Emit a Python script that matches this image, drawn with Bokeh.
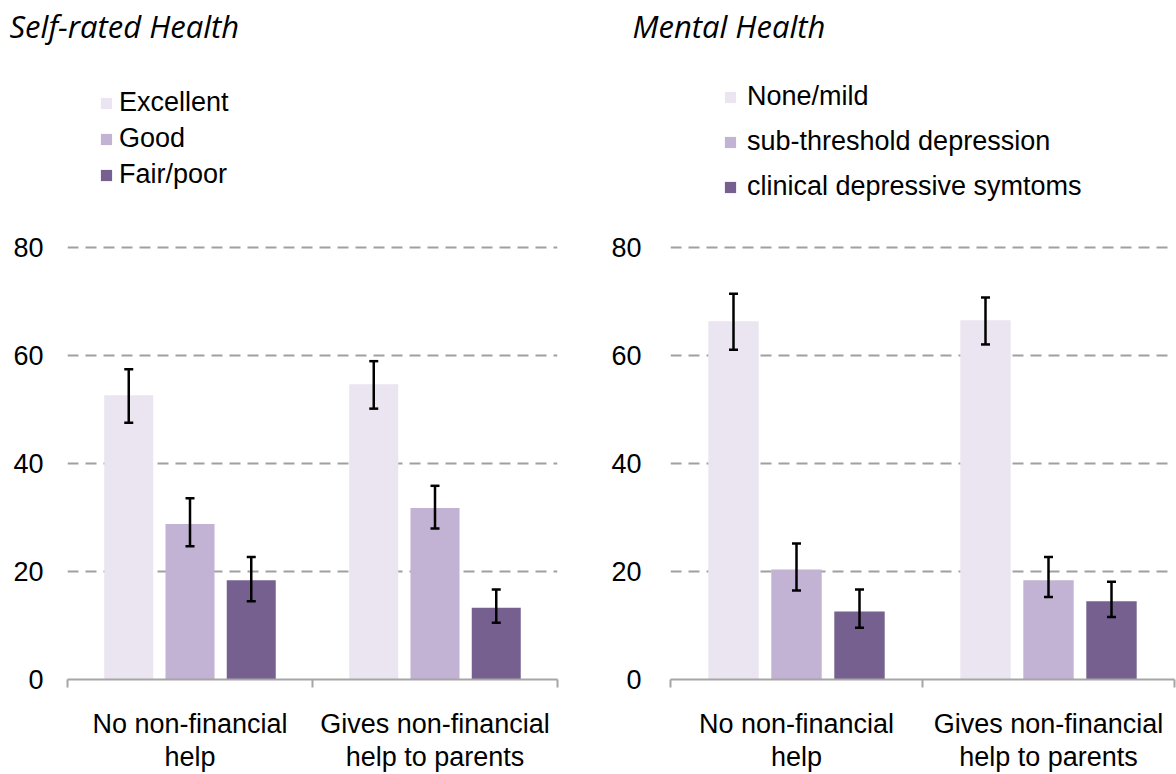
from bokeh.plotting import figure
from bokeh.models import (ColumnDataSource, FixedTicker, Whisker, TeeHead,
                          Legend, LegendItem, Range1d, Title)
from bokeh.layouts import row
from bokeh.embed import file_html
from bokeh.resources import INLINE

# Shared categories and axis ticks
groups = ["No non-financial\nhelp", "Gives non-financial\nhelp to parents"]
y_ticks = [0, 20, 40, 60, 80]

# Self-rated health (% of respondents), with 95% CI bounds
srh_levels = ["Excellent", "Good", "Fair/poor"]
srh_excellent = [52.7, 54.7]
srh_excellent_lo = [47.6, 50.2]
srh_excellent_hi = [57.5, 59.0]
srh_good = [28.8, 31.8]
srh_good_lo = [24.7, 28.0]
srh_good_hi = [33.6, 35.9]
srh_fair_poor = [18.4, 13.3]
srh_fair_poor_lo = [14.5, 10.5]
srh_fair_poor_hi = [22.7, 16.7]

# Mental health (% of respondents), with 95% CI bounds
mh_levels = ["None/mild", "sub-threshold depression", "clinical depressive symtoms"]
mh_none = [66.4, 66.6]
mh_none_lo = [61.1, 62.1]
mh_none_hi = [71.5, 70.8]
mh_sub = [20.4, 18.4]
mh_sub_lo = [16.5, 15.3]
mh_sub_hi = [25.2, 22.7]
mh_clinical = [12.6, 14.5]
mh_clinical_lo = [9.6, 11.6]
mh_clinical_hi = [16.7, 18.1]

colors = ["#EAE5F0", "#C2B2D3", "#76608F"]
SANS = "Liberation Sans"
FS = "27px"
GRID = "#A0A0A0"
AXIS = "#A6A6A6"

HEIGHT = 774
TOP = 46          # frame top (px from canvas top); the panel title sits above
BOTTOM = 93       # space below the frame for the category labels
PX_PER_UNIT = (681 - 248) / 80.0
Y_END = 80 + (248 - TOP) / PX_PER_UNIT


def panel(title, levels, means, lows, highs, fig_width, border_left,
          border_right, title_offset, y_standoff, legend_x, legend_y,
          legend_spacing, legend_standoff):
    p = figure(width=fig_width, height=HEIGHT, x_range=Range1d(0, 2),
               y_range=Range1d(0, Y_END), output_backend="svg",
               toolbar_location=None, min_border_left=border_left,
               min_border_right=border_right, min_border_top=TOP,
               min_border_bottom=BOTTOM)
    p.outline_line_color = None
    p.background_fill_color = "white"
    p.border_fill_color = "white"

    p.add_layout(Title(text=title, align="left", offset=title_offset,
                       standoff=0, text_font="Open Sans",
                       text_font_style="italic", text_font_size="31px",
                       text_color="black"), "above")

    p.xgrid.visible = False
    p.ygrid.ticker = FixedTicker(ticks=y_ticks[1:])
    p.ygrid.grid_line_color = GRID
    p.ygrid.grid_line_width = 2
    p.ygrid.grid_line_dash = "11 7"

    ya = p.yaxis[0]
    ya.ticker = FixedTicker(ticks=y_ticks)
    ya.axis_line_color = None
    ya.major_tick_line_color = None
    ya.minor_tick_line_color = None
    ya.major_tick_out = 0
    ya.major_tick_in = 0
    ya.minor_tick_out = 0
    ya.minor_tick_in = 0
    ya.major_label_standoff = y_standoff
    ya.major_label_text_font = SANS
    ya.major_label_text_font_size = FS
    ya.major_label_text_color = "black"

    xa = p.xaxis[0]
    centers = [i + 0.5 for i in range(len(groups))]
    xa.ticker = FixedTicker(ticks=centers,
                            minor_ticks=list(range(len(groups) + 1)))
    xa.major_label_overrides = {c: g for c, g in zip(centers, groups)}
    xa.axis_line_color = AXIS
    xa.axis_line_width = 2
    xa.major_tick_line_color = None
    xa.major_tick_out = 0
    xa.major_tick_in = 0
    xa.minor_tick_line_color = AXIS
    xa.minor_tick_line_width = 2
    xa.minor_tick_in = 0
    xa.minor_tick_out = 8
    xa.major_label_standoff = 21
    xa.major_label_text_font = SANS
    xa.major_label_text_font_size = FS
    xa.major_label_text_color = "black"
    xa.major_label_text_line_height = 1.1

    items = []
    for k, lvl in enumerate(levels):
        src = ColumnDataSource(dict(
            x=[c + (k - 1) * 0.25 for c in centers],
            top=means[k], lo=lows[k], hi=highs[k]))
        r = p.vbar(x="x", top="top", bottom=0, width=0.2, source=src,
                   fill_color=colors[k], line_color=None)
        items.append(LegendItem(label=lvl, renderers=[r]))
        p.add_layout(Whisker(
            base="x", upper="hi", lower="lo", source=src, level="overlay",
            line_color="black", line_width=2.5,
            upper_head=TeeHead(size=9, line_color="black", line_width=2.5),
            lower_head=TeeHead(size=9, line_color="black", line_width=2.5)))

    legend = Legend(items=items, location=(legend_x, legend_y),
                    orientation="vertical", glyph_width=14, glyph_height=14,
                    label_height=14, spacing=legend_spacing, padding=0,
                    margin=0, border_line_color=None,
                    background_fill_alpha=0, label_standoff=legend_standoff,
                    label_text_font=SANS, label_text_font_size=FS,
                    label_text_color="black")
    p.add_layout(legend)
    return p


left = panel("Self-rated Health", srh_levels,
             [srh_excellent, srh_good, srh_fair_poor],
             [srh_excellent_lo, srh_good_lo, srh_fair_poor_lo],
             [srh_excellent_hi, srh_good_hi, srh_fair_poor_hi],
             590, 67, 33, -58, 24, 32, 489, 5, 6)
right = panel("Mental Health", mh_levels,
              [mh_none, mh_sub, mh_clinical],
              [mh_none_lo, mh_sub_lo, mh_clinical_lo],
              [mh_none_hi, mh_sub_hi, mh_clinical_hi],
              586, 80, 2, -38, 29, 53, 477, 14, 10)

layout = row(left, right, spacing=0)
open("out.html", "w").write(file_html(layout, INLINE))
